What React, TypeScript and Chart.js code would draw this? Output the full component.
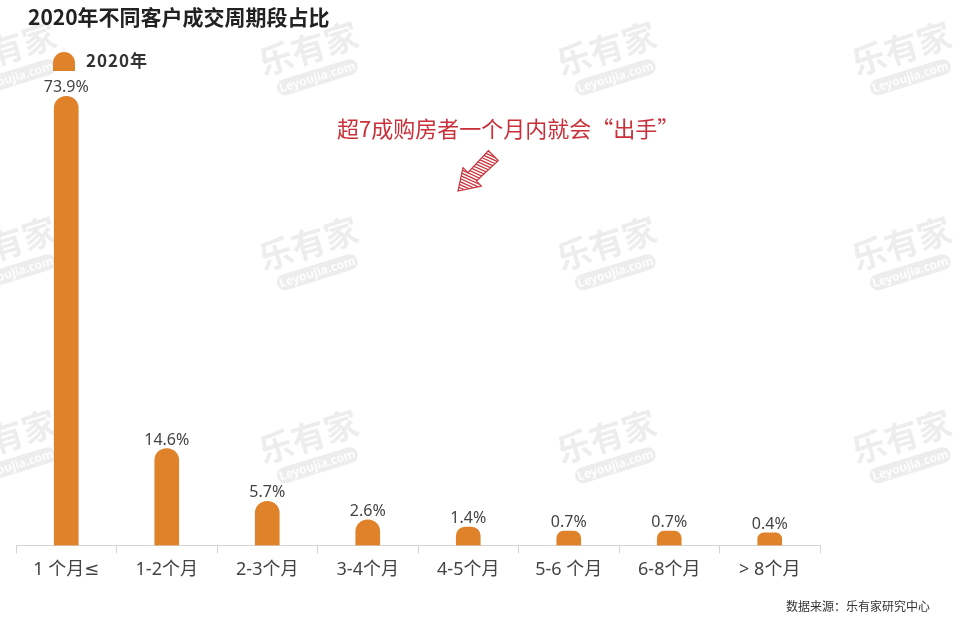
import React, { useEffect, useRef } from "react";
import { Chart, registerables } from "chart.js";

Chart.register(...registerables);

const categories = ["1 个月≤", "1-2个月", "2-3个月", "3-4个月", "4-5个月", "5-6 个月", "6-8个月", "> 8个月"];
const values2020 = [73.9, 14.6, 5.7, 2.6, 1.4, 0.7, 0.7, 0.4];
const seriesName = "2020年";
const titleText = "2020年不同客户成交周期段占比";
const noteText = "超7成购房者一个月内就会“出手”";
const sourceText = "数据来源：乐有家研究中心";
const watermarkMain = "乐有家";
const watermarkSub = "Leyoujia.com";
const axisMin = -1.7;
const axisMax = 80;

const BAR_COLOR = "#e0822a";
const CJK = '"Noto Sans CJK SC", "Noto Sans", sans-serif';
const LATIN_CJK = '"Noto Sans", "DejaVu Sans", "Noto Sans CJK SC", sans-serif';

const decorPlugin = {
  id: "decor",
  beforeDraw(chart: any) {
    const ctx = chart.ctx as CanvasRenderingContext2D;
    ctx.save();
    ctx.fillStyle = "#ffffff";
    ctx.fillRect(0, 0, chart.width, chart.height);
    const xs = [10, 312, 610, 905];
    const ys = [60, 255, 448];
    for (const wy of ys) {
      for (const wx of xs) {
        ctx.save();
        ctx.translate(wx, wy);
        ctx.rotate(-0.3);
        ctx.fillStyle = "rgba(0,0,0,0.07)";
        ctx.font = `bold 34px ${CJK}`;
        ctx.textAlign = "center";
        ctx.textBaseline = "middle";
        ctx.fillText(watermarkMain, 0, -12);
        ctx.beginPath();
        const w = 84, h = 16;
        ctx.roundRect(-w / 2, 10, w, h, 8);
        ctx.fill();
        ctx.fillStyle = "rgba(255,255,255,0.9)";
        ctx.font = `bold 12px "Noto Sans", sans-serif`;
        ctx.fillText(watermarkSub, 0, 18.5);
        ctx.restore();
      }
    }
    ctx.restore();
  },
  afterDatasetsDraw(chart: any) {
    const ctx = chart.ctx as CanvasRenderingContext2D;
    const meta = chart.getDatasetMeta(0);
    const data = chart.data.datasets[0].data as number[];
    ctx.save();
    ctx.fillStyle = "#444444";
    ctx.font = `16px "Noto Sans", sans-serif`;
    ctx.textAlign = "center";
    ctx.textBaseline = "alphabetic";
    meta.data.forEach((bar: any, i: number) => {
      ctx.fillText(data[i].toFixed(1) + "%", bar.x, bar.y - 4);
    });
    ctx.restore();
  },
  afterDraw(chart: any) {
    const ctx = chart.ctx as CanvasRenderingContext2D;
    ctx.save();
    ctx.fillStyle = "#222222";
    ctx.font = `bold 21px ${CJK}`;
    (ctx as any).letterSpacing = "0px";
    ctx.textAlign = "left";
    ctx.textBaseline = "middle";
    ctx.fillText(titleText, 28, 17);
    ctx.fillStyle = BAR_COLOR;
    ctx.beginPath();
    ctx.moveTo(53, 71);
    ctx.lineTo(53, 63);
    ctx.arc(64, 63, 11, Math.PI, 0);
    ctx.lineTo(75, 71);
    ctx.closePath();
    ctx.fill();
    ctx.fillStyle = "#333333";
    ctx.font = `bold 17px ${CJK}`;
    (ctx as any).letterSpacing = "1px";
    ctx.fillText(seriesName, 86, 61);
    (ctx as any).letterSpacing = "0px";
    ctx.fillStyle = "#c9303a";
    ctx.font = `22px ${CJK}`;
    ctx.fillText(noteText, 337, 129);
    ctx.save();
    ctx.translate(458, 191);
    ctx.rotate(Math.atan2(155 - 191, 494 - 458));
    ctx.beginPath();
    ctx.moveTo(0, 0);
    ctx.lineTo(20, -13);
    ctx.lineTo(20, -6);
    ctx.lineTo(50, -7);
    ctx.lineTo(50, 7);
    ctx.lineTo(20, 6);
    ctx.lineTo(20, 13);
    ctx.closePath();
    ctx.strokeStyle = "#c9303a";
    ctx.lineWidth = 1.2;
    ctx.stroke();
    ctx.clip();
    ctx.lineWidth = 1.3;
    for (let k = -20; k < 70; k += 3) {
      ctx.beginPath();
      ctx.moveTo(k, -16);
      ctx.lineTo(k + 12, 16);
      ctx.stroke();
    }
    ctx.restore();
    ctx.fillStyle = "#333333";
    ctx.font = `12px ${CJK}`;
    ctx.textAlign = "left";
    ctx.fillText(sourceText, 786, 606);
    ctx.restore();
  },
};

export default function App() {
  const ref = useRef<HTMLCanvasElement | null>(null);
  useEffect(() => {
    if (!ref.current) return;
    const chart = new Chart(ref.current, {
      type: "bar",
      data: {
        labels: categories,
        datasets: [
          {
            label: seriesName,
            data: values2020,
            base: axisMin,
            backgroundColor: BAR_COLOR,
            borderRadius: { topLeft: 12, topRight: 12, bottomLeft: 0, bottomRight: 0 },
            borderSkipped: "bottom",
            barThickness: 24,
          } as any,
        ],
      },
      options: {
        animation: false,
        responsive: false,
        maintainAspectRatio: false,
        layout: { padding: { left: 16, right: 146, top: 60, bottom: 34 } },
        plugins: { legend: { display: false }, tooltip: { enabled: false }, title: { display: false } },
        scales: {
          y: { display: false, min: axisMin, max: axisMax },
          x: {
            grid: { display: true, drawOnChartArea: false, drawTicks: true, tickLength: 8, color: "#d4d4d4" },
            border: { display: true, color: "#d4d4d4" },
            ticks: { color: "#444444", font: { family: LATIN_CJK, size: 18 }, padding: 6, maxRotation: 0 },
          },
        },
      },
      plugins: [decorPlugin],
    });
    return () => chart.destroy();
  }, []);
  return (
    <div style={{ position: "fixed", left: 0, top: 0, width: 966, height: 621, background: "#fff" }}>
      <canvas ref={ref} width={966} height={621} style={{ width: 966, height: 621, display: "block" }} />
    </div>
  );
}
